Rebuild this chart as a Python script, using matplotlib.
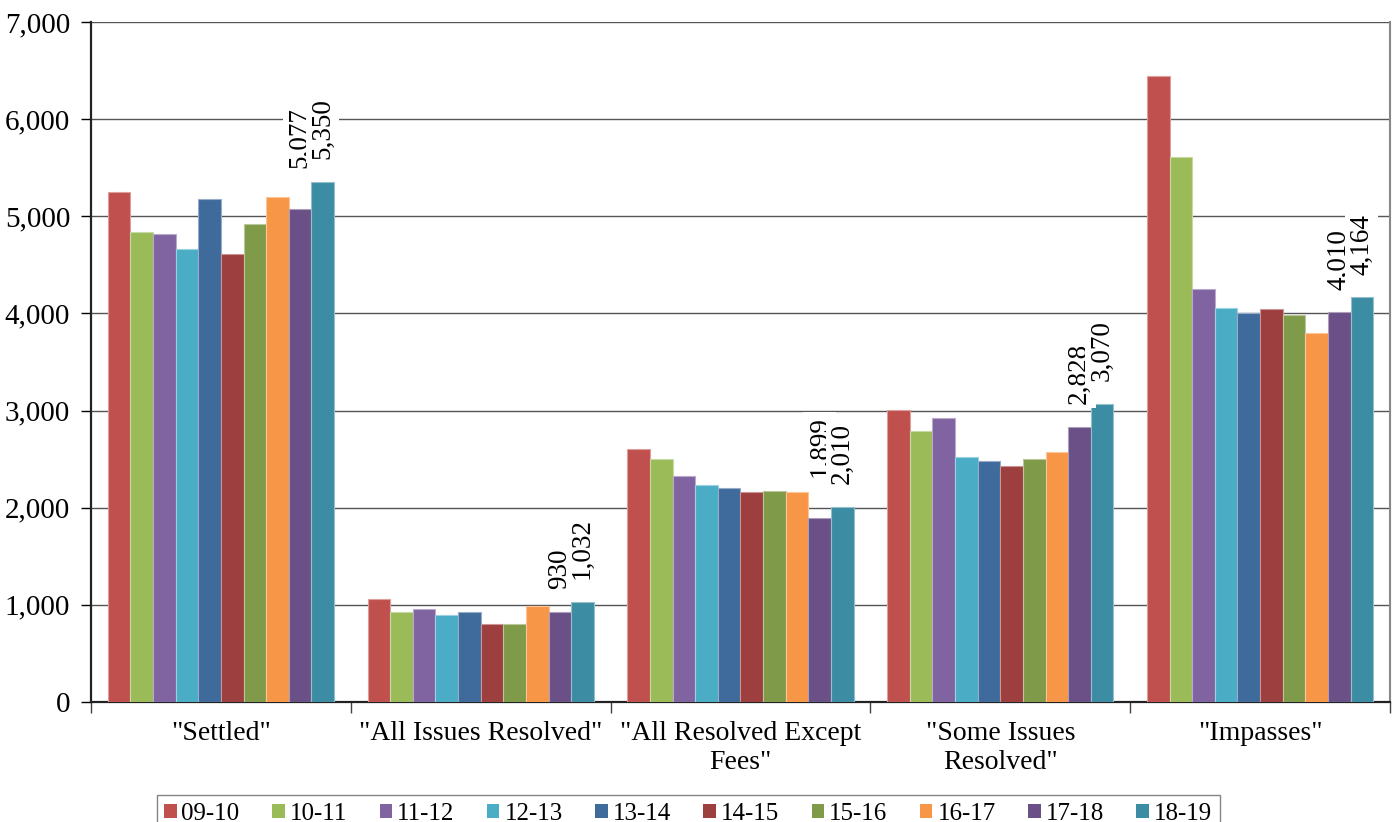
import matplotlib
matplotlib.use("Agg")
import matplotlib.pyplot as plt
import numpy as np
from matplotlib.ticker import FuncFormatter, MultipleLocator
from matplotlib.patches import Patch
import matplotlib.colors as mcolors

categories = ['"Settled"', '"All Issues Resolved"', '"All Resolved Except\nFees"',
              '"Some Issues\nResolved"', '"Impasses"']
years = ["09-10", "10-11", "11-12", "12-13", "13-14", "14-15", "15-16", "16-17", "17-18", "18-19"]

v_0910 = [5250, 1060, 2605, 3003, 6444]
v_1011 = [4840, 926, 2498, 2790, 5610]
v_1112 = [4820, 957, 2330, 2920, 4252]
v_1213 = [4660, 896, 2231, 2519, 4056]
v_1314 = [5180, 926, 2203, 2478, 4005]
v_1415 = [4610, 803, 2159, 2433, 4046]
v_1516 = [4920, 803, 2172, 2502, 3984]
v_1617 = [5200, 988, 2159, 2577, 3799]
v_1718 = [5077, 930, 1899, 2828, 4010]
v_1819 = [5350, 1032, 2010, 3070, 4164]

series = [v_0910, v_1011, v_1112, v_1213, v_1314, v_1415, v_1516, v_1617, v_1718, v_1819]
labeled_series = [8, 9]

colors = ["#C0504D", "#9BBB59", "#8064A2", "#4BACC6", "#3F6A9C",
          "#9C3F3E", "#7F9A48", "#F79646", "#6A5086", "#3C8DA3"]

plt.rcParams['font.family'] = ['Liberation Serif', 'DejaVu Serif']

fig = plt.figure(figsize=(13.96, 8.22), dpi=100)
ax = fig.add_axes([91/1396, 1-702/822, (1390-91)/1396, (702-22)/822])

n = len(series)
bw = 0.087
x = np.arange(len(categories))
for i, vals in enumerate(series):
    pos = x - bw*n/2 + bw*(i+0.5)
    edge = mcolors.to_rgba(colors[i])
    edge = tuple(0.55*c + 0.45 for c in edge[:3])
    bars = ax.bar(pos, vals, width=bw, color=colors[i], edgecolor=edge, linewidth=0.8, zorder=3)
    if i in labeled_series:
        for j, (b, v) in enumerate(zip(bars, vals)):
            extra = 0
            if i == 8 and j in (0, 2):
                extra = 13
            ax.annotate(f"{v:,}", (b.get_x()+b.get_width()/2, v), xytext=(0, 16.5+extra),
                        textcoords="offset points", rotation=90, ha="center", va="bottom",
                        fontsize=19.5, zorder=5,
                        bbox=dict(boxstyle="square,pad=0.15", fc="white", ec="none"))

ax.set_xlim(-0.5, len(categories)-0.5)
ax.set_ylim(0, 7000)
ax.yaxis.set_major_locator(MultipleLocator(1000))
ax.yaxis.set_major_formatter(FuncFormatter(lambda v, p: f"{int(v):,}"))
ax.grid(axis="y", color="#555555", linewidth=1.0, zorder=0)
ax.set_axisbelow(True)

ax.set_xticks(np.arange(-0.5, len(categories), 1.0))
ax.set_xticklabels([])
ax.set_xticks(x, minor=True)
ax.set_xticklabels(categories, minor=True, fontsize=20, linespacing=1.2)
ax.tick_params(axis="x", which="minor", length=0, pad=14)
ax.tick_params(axis="x", which="major", length=8, width=1, color="#444444", direction="out")
ax.tick_params(axis="y", length=7, width=1, direction="out", labelsize=21, pad=8)

for s in ["left", "bottom"]:
    ax.spines[s].set_color("#222222")
    ax.spines[s].set_linewidth(1.6)
ax.spines["right"].set_color("#888888")
ax.spines["right"].set_linewidth(1.5)
ax.spines["top"].set_visible(False)

handles = [Patch(facecolor=c, edgecolor="none") for c in colors]
leg = fig.legend(handles, years, loc="upper center", bbox_to_anchor=(688/1396, 1-795/822),
                 ncol=10, fontsize=18, frameon=True, fancybox=False, edgecolor="#666666",
                 handlelength=0.5, handleheight=0.5, handletextpad=0.2, columnspacing=1.3,
                 borderpad=0.3, borderaxespad=0)
leg.get_frame().set_linewidth(1.0)

fig.savefig("out.png", dpi=100)
